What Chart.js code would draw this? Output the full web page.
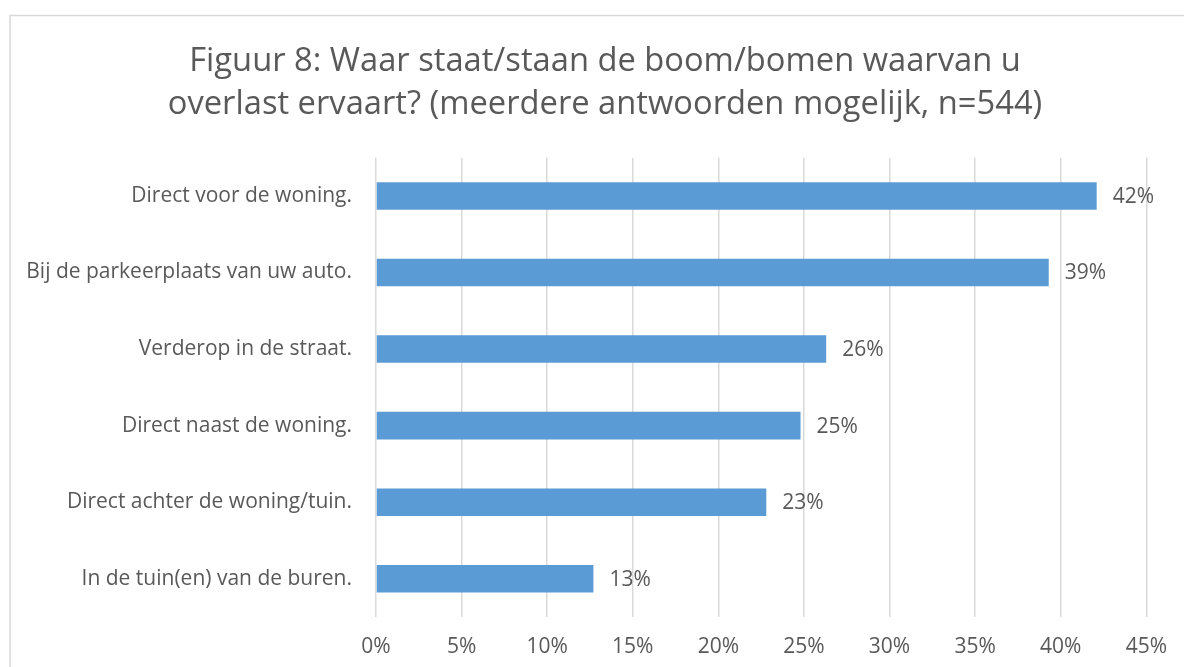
<!DOCTYPE html>
<html>
<head>
<meta charset="utf-8">
<script src="https://cdn.jsdelivr.net/npm/chart.js@4.4.1/dist/chart.umd.min.js"></script>
<style>
  html, body { margin: 0; padding: 0; background: #fff; }
  #wrap { position: absolute; left: 0; top: 0; width: 1184px; height: 667px; }
</style>
</head>
<body>
<div id="wrap"><canvas id="chart" width="1184" height="667"></canvas></div>
<script>
const titleLines = [
  "Figuur 8: Waar staat/staan de boom/bomen waarvan u",
  "overlast ervaart? (meerdere antwoorden mogelijk, n=544)"
];
const categories = [
  "Direct voor de woning.",
  "Bij de parkeerplaats van uw auto.",
  "Verderop in de straat.",
  "Direct naast de woning.",
  "Direct achter de woning/tuin.",
  "In de tuin(en) van de buren."
];
const values = [42.1, 39.3, 26.3, 24.8, 22.8, 12.7];
const tickValues = [0, 5, 10, 15, 20, 25, 30, 35, 40, 45];

const textColor = "#595959";
const gridColor = "#D9D9D9";
const barColor = "#5B9BD5";
const fontFamily = "'Open Sans', 'Noto Sans', sans-serif";

// light frame like the office chart area (cut off right and bottom)
const frame = {
  id: "frame",
  beforeDraw(chart) {
    const ctx = chart.ctx;
    ctx.save();
    ctx.strokeStyle = gridColor;
    ctx.lineWidth = 1.5;
    ctx.beginPath();
    ctx.moveTo(10, 700);
    ctx.lineTo(10, 15.5);
    ctx.lineTo(1200, 15.5);
    ctx.stroke();
    ctx.restore();
  }
};

// the original frame is wider than the screenshot, so the title sits a bit right of centre
const titleShift = {
  id: "titleShift",
  afterLayout(chart) {
    if (chart.titleBlock) {
      chart.titleBlock.left = 60;
      chart.titleBlock.right = 1150;
    }
  }
};

// percentage labels right of the bars
const valueLabels = {
  id: "valueLabels",
  afterDatasetsDraw(chart) {
    const ctx = chart.ctx;
    const meta = chart.getDatasetMeta(0);
    ctx.save();
    ctx.fillStyle = textColor;
    ctx.font = "21px " + fontFamily;
    ctx.textAlign = "left";
    ctx.textBaseline = "middle";
    meta.data.forEach((bar, i) => {
      ctx.fillText(Math.round(values[i]) + "%", bar.x + 16, bar.y + 1);
    });
    ctx.restore();
  }
};

new Chart(document.getElementById("chart"), {
  type: "bar",
  data: {
    labels: categories,
    datasets: [{
      data: values,
      backgroundColor: barColor,
      borderWidth: 0,
      barPercentage: 0.72,
      categoryPercentage: 0.5
    }]
  },
  options: {
    indexAxis: "y",
    responsive: false,
    animation: false,
    layout: { padding: { left: 0, right: 34, top: 0, bottom: 0 } },
    plugins: {
      legend: { display: false },
      tooltip: { enabled: false },
      title: {
        display: true,
        text: titleLines,
        color: textColor,
        font: { family: fontFamily, size: 32.7, weight: "normal", lineHeight: 1.31 },
        padding: { top: 40, bottom: 32 }
      }
    },
    scales: {
      x: {
        min: 0,
        max: 45,
        afterBuildTicks: s => { s.ticks = tickValues.map(v => ({ value: v })); },
        afterFit: s => { s.height = 50; },
        border: { display: false },
        grid: { color: gridColor, lineWidth: 1.5, drawTicks: false },
        ticks: {
          color: textColor,
          padding: 17,
          font: { family: fontFamily, size: 21 },
          callback: v => v + "%"
        }
      },
      y: {
        afterFit: s => { s.width = 376; },
        border: { display: false },
        grid: { display: false, drawTicks: false },
        ticks: {
          color: textColor,
          padding: 24,
          font: { family: fontFamily, size: 21 }
        }
      }
    }
  },
  plugins: [frame, titleShift, valueLabels]
});
</script>
</body>
</html>
